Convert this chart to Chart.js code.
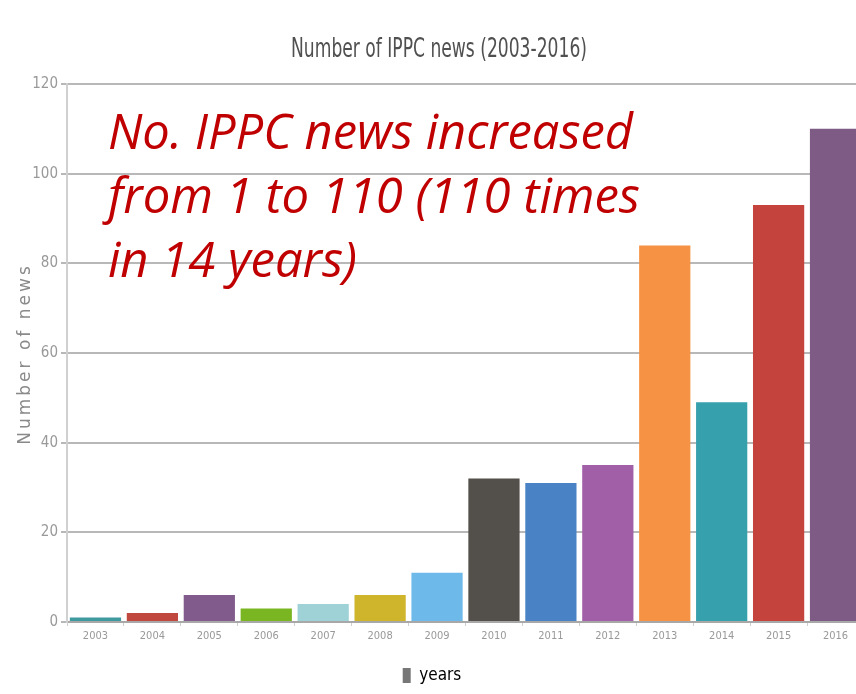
<!DOCTYPE html>
<html>
<head>
<meta charset="utf-8">
<title>Number of IPPC news (2003-2016)</title>
<script src="https://cdn.jsdelivr.net/npm/chart.js@4.4.1/dist/chart.umd.min.js"></script>
<style>
    html, body { margin: 0; padding: 0; background: #fff; overflow: hidden; }
    #wrap { position: relative; width: 864px; height: 694px; }
</style>
</head>
<body>
<div id="wrap"><canvas id="newsChart"></canvas></div>
<script>
// 数据
const years = ['2003', '2004', '2005', '2006', '2007', '2008', '2009',
               '2010', '2011', '2012', '2013', '2014', '2015', '2016'];
const newsCounts = [1, 2, 6, 3, 4, 6, 11, 32, 31, 35, 84, 49, 93, 110];
const barColors = ['#3f9aa0', '#c0483e', '#805b8b', '#7ab522', '#9fd2d6', '#cfb52c', '#6db9e9',
                   '#534f4b', '#4a83c5', '#a15fa7', '#f59243', '#37a0ad', '#c4443d', '#7e5b84'];
const chartTitle = 'Number of IPPC news (2003-2016)';
const yAxisTitle = 'Number of news';
const seriesName = 'years';
const noteLines = ['No. IPPC news increased', 'from 1 to 110 (110 times', 'in 14 years)'];

const NARROW = "'Liberation Sans Narrow', 'DejaVu Sans Condensed', 'Roboto', sans-serif";

// 标题、纵轴标题和红色说明文字
const textPlugin = {
    id: 'extraText',
    afterDraw(chart) {
        const ctx = chart.ctx;
        ctx.save();

        // 标题
        ctx.fillStyle = '#505050';
        ctx.font = "26px " + NARROW;
        ctx.textAlign = 'center';
        ctx.textBaseline = 'middle';
        ctx.fillText(chartTitle, 439, 50, 296);

        // 纵轴标题（字距较大）
        ctx.translate(26, 354);
        ctx.rotate(-Math.PI / 2);
        ctx.fillStyle = '#8a8a8a';
        ctx.font = "17px 'DejaVu Sans', sans-serif";
        ctx.letterSpacing = '3px';
        ctx.fillText(yAxisTitle, 0, 0);
        ctx.restore();

        // 说明文字
        ctx.save();
        ctx.fillStyle = '#c00000';
        ctx.font = "italic 50px 'Open Sans', sans-serif";
        ctx.textAlign = 'left';
        ctx.textBaseline = 'alphabetic';
        const widths = [525, 532, 249];
        noteLines.forEach((line, i) => {
            ctx.fillText(line, 108, 149 + i * 64, widths[i]);
        });
        ctx.restore();
    }
};

const ctx = document.getElementById('newsChart');
new Chart(ctx, {
    type: 'bar',
    data: {
        labels: years,
        datasets: [{
            label: seriesName,
            data: newsCounts,
            backgroundColor: barColors,
            barPercentage: 0.9,
            categoryPercentage: 1.0
        }]
    },
    options: {
        responsive: true,
        maintainAspectRatio: false,
        animation: false,
        layout: { padding: { top: 84, left: 0, right: 0, bottom: 0 } },
        plugins: {
            title: { display: false },
            tooltip: { enabled: false },
            legend: {
                display: true,
                position: 'bottom',
                labels: {
                    generateLabels: () => [{
                        text: seriesName,
                        fillStyle: '#777',
                        strokeStyle: '#777',
                        lineWidth: 0
                    }],
                    boxWidth: 8,
                    boxHeight: 15,
                    color: '#444',
                    padding: 2,
                    font: { size: 17, family: NARROW }
                }
            }
        },
        scales: {
            x: {
                afterFit: (scale) => { scale.height = 43; },
                grid: {
                    display: true,
                    drawOnChartArea: false,
                    tickLength: 4,
                    color: '#d0d0d0'
                },
                border: { display: true, color: '#a8a8a8', width: 2 },
                ticks: {
                    color: '#999',
                    padding: 4,
                    maxRotation: 0,
                    font: { size: 11, family: NARROW }
                }
            },
            y: {
                min: 0,
                max: 120,
                afterFit: (scale) => { scale.width = 67; },
                grid: {
                    color: '#b8b8b8',
                    lineWidth: 2,
                    tickLength: 6
                },
                border: { display: true, color: '#d0d0d0', width: 2 },
                ticks: {
                    stepSize: 20,
                    color: '#999',
                    padding: 3,
                    font: { size: 15, family: NARROW }
                }
            }
        }
    },
    plugins: [textPlugin]
});
</script>
</body>
</html>
